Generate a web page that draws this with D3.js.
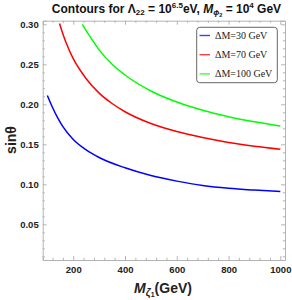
<!DOCTYPE html>
<html><head><meta charset="utf-8">
<script src="https://cdn.jsdelivr.net/npm/d3@7"></script>
<style>body{margin:0;background:#fff}svg{display:block}</style>
</head><body>
<svg id="c" width="292" height="300"></svg>
<script>
// ---- data ----
const massBlue  = [100, 120, 140, 160, 200, 250, 300, 400, 500, 600, 700, 800, 900, 1000];
const sinBlue   = [0.211, 0.196, 0.183, 0.172, 0.156, 0.143, 0.1335, 0.1206, 0.111, 0.104, 0.0985, 0.095, 0.0928, 0.0911];
const massRed   = [147, 160, 180, 200, 250, 300, 350, 400, 500, 600, 700, 800, 900, 1000];
const sinRed    = [0.301, 0.288, 0.271, 0.257, 0.232, 0.214, 0.201, 0.1907, 0.176, 0.166, 0.1585, 0.1524, 0.1477, 0.1439];
const massGreen = [235, 260, 300, 350, 400, 500, 600, 700, 800, 900, 1000];
const sinGreen  = [0.300, 0.287, 0.268, 0.250, 0.2366, 0.2166, 0.2028, 0.1925, 0.1845, 0.1782, 0.173];
const seriesNames = ["\u0394M=30 GeV", "\u0394M=70 GeV", "\u0394M=100 GeV"];
const seriesColors = ["#0000ff", "#ff0000", "#00ff00"];
const xTicks = [200, 400, 600, 800, 1000];
const yTicks = [0.05, 0.10, 0.15, 0.20, 0.25, 0.30];

const series = [
  {name: seriesNames[0], color: seriesColors[0], pts: massBlue.map((m,i)=>[m, sinBlue[i]])},
  {name: seriesNames[1], color: seriesColors[1], pts: massRed.map((m,i)=>[m, sinRed[i]])},
  {name: seriesNames[2], color: seriesColors[2], pts: massGreen.map((m,i)=>[m, sinGreen[i]])}
];

const svg = d3.select("#c");
const L = 42.7, R = 285, T = 20.7, B = 260;
const x = d3.scaleLinear().domain([82, 1018]).range([L, R]);
const y = d3.scaleLinear().domain([0.0054, 0.3045]).range([B, T]);
const frameColor = "#b4b4b4";
const font = "'Liberation Sans', Arial, sans-serif";

// curves
svg.append("clipPath").attr("id","clp").append("rect")
  .attr("x", L).attr("y", T).attr("width", R-L).attr("height", B-T);
const line = d3.line().x(d=>x(d[0])).y(d=>y(d[1])).curve(d3.curveMonotoneX);
svg.append("g").attr("clip-path","url(#clp)").selectAll("path").data(series).join("path")
  .attr("d", d=>line(d.pts)).attr("fill","none").attr("stroke", d=>d.color).attr("stroke-width",1.5);

// frame with axes
function frameAxis(gen, tr, tickVals, minorVals, showLabels, fmt){
  const g = svg.append("g").attr("transform", tr);
  g.call(gen.tickValues(tickVals).tickSize(-4).tickPadding(4).tickFormat(showLabels ? fmt : ""));
  g.select(".domain").attr("stroke", frameColor);
  g.selectAll(".tick line").attr("stroke", frameColor);
  const g2 = svg.append("g").attr("transform", tr);
  g2.call(gen.tickValues(minorVals).tickSize(-2.2).tickFormat(""));
  g2.select(".domain").remove();
  g2.selectAll(".tick line").attr("stroke", frameColor);
  g.selectAll("text").attr("font-family", font).attr("font-weight","bold").attr("font-size", 9.5).attr("fill","#222");
  return g;
}
const xMinor = d3.range(120, 1018, 40).filter(v => v % 200 !== 0);
const yMinor = d3.range(1, 31).map(v => v/100).filter(v => Math.round(v*100) % 5 !== 0);
const xb = frameAxis(d3.axisBottom(x), `translate(0,${B})`, xTicks, xMinor, true, d3.format("d"));
frameAxis(d3.axisTop(x), `translate(0,${T})`, xTicks, xMinor, false);
frameAxis(d3.axisLeft(y), `translate(${L},0)`, yTicks, yMinor, true, d3.format(".2f"));
frameAxis(d3.axisRight(y), `translate(${R},0)`, yTicks, yMinor, false);
xb.selectAll("text").attr("dy", "0.9em");

// legend
const lg = svg.append("g");
lg.append("rect").attr("x",196.7).attr("y",27.3).attr("width",80.6).attr("height",55.4)
  .attr("rx",3).attr("fill","#fff").attr("stroke","#555").attr("stroke-width",0.9);
series.forEach((s,i)=>{
  const yy = 35.5 + i*19.2;
  lg.append("line").attr("x1",199.5).attr("x2",210).attr("y1",yy).attr("y2",yy)
    .attr("stroke", s.color).attr("stroke-width",1.4).attr("opacity",0.75);
  lg.append("text").attr("x",215).attr("y",yy+3.4).text(s.name)
    .attr("font-family","'Liberation Serif','Times New Roman',serif").attr("font-size",10).attr("fill","#222");
});

// title
const tt = svg.append("text").attr("x",166.5).attr("y",12.5).attr("text-anchor","middle")
  .attr("font-family",font).attr("font-weight","bold").attr("font-size",12).attr("fill","#111");
tt.append("tspan").text("Contours for \u039b");
tt.append("tspan").attr("font-size",8).attr("dy",2.5).text("22");
tt.append("tspan").attr("dy",-2.5).text(" = 10");
tt.append("tspan").attr("font-size",8).attr("dy",-5).text("6.5");
tt.append("tspan").attr("dy",5).text("eV, ");
tt.append("tspan").attr("font-style","italic").text("M");
tt.append("tspan").attr("font-size",8).attr("font-style","italic").attr("dy",2.5).text("\u03d5");
tt.append("tspan").attr("font-size",5.5).attr("dy",1.5).text("2");
tt.append("tspan").attr("dy",-4).text(" = 10");
tt.append("tspan").attr("font-size",8).attr("dy",-5).text("4");
tt.append("tspan").attr("dy",5).text(" GeV");

// y label
svg.append("text").attr("transform","translate(15.5,140) rotate(-90)").attr("text-anchor","middle")
  .attr("font-family",font).attr("font-weight","bold").attr("font-size",14).attr("fill","#222")
  .text("sin\u03b8");

// x label
const xl = svg.append("text").attr("x",163).attr("y",293).attr("text-anchor","middle")
  .attr("font-family",font).attr("font-weight","bold").attr("font-size",14).attr("fill","#222");
xl.append("tspan").attr("font-style","italic").text("M");
xl.append("tspan").attr("font-style","italic").attr("font-size",10).attr("dy",2.5).text("\u03b6");
xl.append("tspan").attr("font-size",7).attr("dy",1).text("1");
xl.append("tspan").attr("dy",-3.5).text("(GeV)");
</script>
</body></html>
